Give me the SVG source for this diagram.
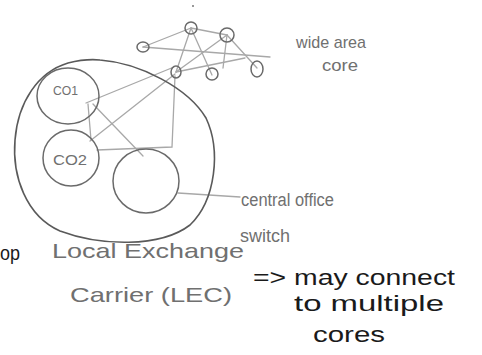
<svg xmlns="http://www.w3.org/2000/svg" width="482" height="355" viewBox="0 0 482 355">
<style>
.bg{fill:#fff}
.pen{fill:none;stroke:#5a5a5a;stroke-width:1.6;stroke-linecap:round}
.node{fill:none;stroke:#6a6a6a;stroke-width:1.5}
.edge{fill:none;stroke:#a8a8a8;stroke-width:1.3;stroke-linecap:round}
.lbl{font-family:"Liberation Sans",Arial,sans-serif;fill:#707070}
.ink{font-family:"Liberation Sans",Arial,sans-serif;fill:#1a1a1a}
</style>
<rect class="bg" x="0" y="0" width="482" height="355"/>
<g id="connectors">
  <line class="edge" x1="143" y1="47" x2="191" y2="28"/>
  <line class="edge" x1="143" y1="47" x2="270" y2="57"/>
  <line class="edge" x1="191" y1="28" x2="227" y2="35"/>
  <line class="edge" x1="191" y1="28" x2="176" y2="72"/>
  <line class="edge" x1="191" y1="28" x2="212" y2="75"/>
  <line class="edge" x1="227" y1="35" x2="176" y2="72"/>
  <line class="edge" x1="227" y1="35" x2="223" y2="68"/>
  <line class="edge" x1="227" y1="35" x2="257" y2="68"/>
  <line class="edge" x1="176" y1="72" x2="245" y2="58"/>
  <line class="edge" x1="86" y1="103" x2="174" y2="67"/>
  <line class="edge" x1="88" y1="104" x2="91" y2="140"/>
  <line class="edge" x1="90" y1="141" x2="175" y2="74"/>
  <line class="edge" x1="93" y1="104" x2="143" y2="156"/>
  <polyline class="edge" points="175,76 172,147 97,150"/>
  <line class="edge" x1="178" y1="193" x2="240" y2="197"/>
</g>
<g id="lec">
  <path class="pen" d="M100,60 C140,63 188,88 206,118 C221,150 216,200 190,225 C160,248 100,246 60,231 C26,216 12,176 15,140 C18,102 38,72 68,63 C80,60 90,59 100,60 Z"/>
  <text class="lbl" x="52" y="258" font-size="21" textLength="192" lengthAdjust="spacingAndGlyphs">Local Exchange</text>
  <text class="lbl" x="70" y="302" font-size="21" textLength="162" lengthAdjust="spacingAndGlyphs">Carrier (LEC)</text>
</g>
<g id="co1">
  <ellipse class="node" cx="68" cy="96" rx="31" ry="28"/>
  <text class="lbl" x="53" y="95" font-size="13" textLength="25" lengthAdjust="spacingAndGlyphs">CO1</text>
</g>
<g id="co2">
  <ellipse class="node" cx="71" cy="158" rx="28" ry="28"/>
  <text class="lbl" x="53" y="165" font-size="15" textLength="34" lengthAdjust="spacingAndGlyphs">CO2</text>
</g>
<g id="switch">
  <ellipse class="node" cx="146" cy="181" rx="33" ry="32"/>
  <text class="lbl" x="241" y="206" font-size="18" textLength="93" lengthAdjust="spacingAndGlyphs">central office</text>
  <text class="lbl" x="240" y="242" font-size="18" textLength="50" lengthAdjust="spacingAndGlyphs">switch</text>
</g>
<g id="core">
  <circle cx="193" cy="6" r="1" fill="#777"/>
  <g id="n1"><ellipse class="node" cx="143" cy="47" rx="6" ry="5"/></g>
  <g id="n2"><ellipse class="node" cx="191" cy="28" rx="6" ry="6"/></g>
  <g id="n3"><ellipse class="node" cx="227" cy="35" rx="7" ry="7"/></g>
  <g id="n4"><ellipse class="node" cx="176" cy="72" rx="5" ry="6"/></g>
  <g id="n5"><ellipse class="node" cx="212" cy="74" rx="6" ry="6"/></g>
  <g id="n6"><ellipse class="node" cx="257" cy="69" rx="6" ry="8"/></g>
  <text class="lbl" x="296" y="48" font-size="17" textLength="70" lengthAdjust="spacingAndGlyphs">wide area</text>
  <text class="lbl" x="322" y="71" font-size="17" textLength="36" lengthAdjust="spacingAndGlyphs">core</text>
</g>
<g id="notes">
  <text class="ink" x="0" y="260" font-size="20" textLength="20" lengthAdjust="spacingAndGlyphs">op</text>
  <text class="ink" x="253" y="285" font-size="22" textLength="202" lengthAdjust="spacingAndGlyphs">=&gt; may connect</text>
  <text class="ink" x="294" y="311" font-size="22" textLength="150" lengthAdjust="spacingAndGlyphs">to multiple</text>
  <text class="ink" x="313" y="342" font-size="22" textLength="72" lengthAdjust="spacingAndGlyphs">cores</text>
</g>
</svg>
